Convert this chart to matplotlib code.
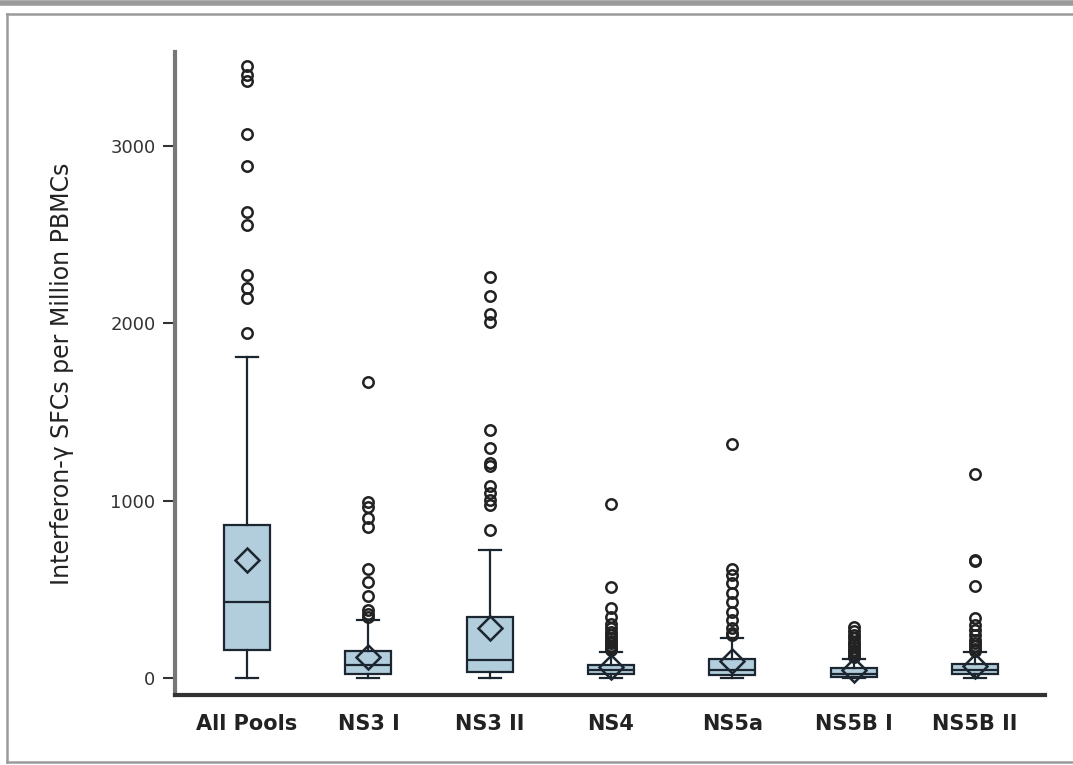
import matplotlib.pyplot as plt
from matplotlib.lines import Line2D
import numpy as np

# Values (interferon-gamma SFCs per million PBMCs)
groups = ['All Pools', 'NS3 I', 'NS3 II', 'NS4', 'NS5a', 'NS5B I', 'NS5B II']
q1s = [158, 25, 34, 20, 17, 5, 20]
medians = [428, 75, 100, 45, 45, 25, 45]
q3s = [863, 150, 344, 75, 107, 56, 80]
means = [665, 118, 282, 60, 95, 45, 65]
whisLo = [0, 0, 0, 0, 0, 0, 0]
whisHi = [1810, 325, 722, 147, 226, 105, 145]
fliers = [
    [3450, 3400, 3370, 3068, 2888, 2628, 2555, 2273, 2200, 2143, 1946],
    [1670, 990, 965, 902, 852, 615, 540, 460, 383, 360, 345],
    [2262, 2155, 2053, 2008, 1399, 1297, 1212, 1196, 1083, 1043, 1004, 976, 835],
    [981, 513, 395, 344, 305, 280, 260, 240, 225, 210, 195, 180, 170, 160],
    [1320, 615, 581, 536, 479, 429, 372, 327, 282, 255, 240],
    [285, 265, 245, 225, 205, 190, 175, 160, 145, 130, 118],
    [1150, 666, 660, 519, 338, 299, 270, 240, 215, 195, 180, 165, 155],
]
yticks = [0, 1000, 2000, 3000]
ylabel = 'Interferon-\u03b3 SFCs per Million PBMCs'

boxColor = '#b2cddb'
edgeColor = '#1c2630'

stats = []
for i, name in enumerate(groups):
    stats.append(dict(label=name, q1=q1s[i], med=medians[i], q3=q3s[i],
                      mean=means[i], whislo=whisLo[i], whishi=whisHi[i],
                      fliers=fliers[i]))

fig = plt.figure(figsize=(10.73, 7.65), dpi=100)
ax = fig.add_axes([0.1631, 0.0915, 0.8108, 0.8405])

ax.bxp(
    stats, positions=np.arange(1, len(groups) + 1), widths=0.38,
    patch_artist=True, showmeans=True, showfliers=True,
    boxprops=dict(facecolor=boxColor, edgecolor=edgeColor, linewidth=1.6),
    medianprops=dict(color=edgeColor, linewidth=1.6),
    whiskerprops=dict(color=edgeColor, linewidth=1.6),
    capprops=dict(color=edgeColor, linewidth=1.6),
    capwidths=0.18,
    meanprops=dict(marker='D', markersize=12, markerfacecolor='none',
                   markeredgecolor=edgeColor, markeredgewidth=1.8),
    flierprops=dict(marker='o', markersize=7.5, markerfacecolor='none',
                    markeredgecolor='#222222', markeredgewidth=1.8),
)

ax.set_xlim(0.406, 7.577)
ax.set_ylim(-96, 3531)
ax.set_yticks(yticks)
ax.set_yticklabels([str(v) for v in yticks], fontsize=13, color='#333333')
ax.set_xticks(np.arange(1, len(groups) + 1))
ax.set_xticklabels(groups, fontsize=15, fontweight='bold', color='#222222')
ax.tick_params(axis='y', length=9, width=1.5, color='#333333', pad=5)
ax.tick_params(axis='x', length=0, pad=14)
ax.set_ylabel(ylabel, fontsize=17, color='#222222', labelpad=26)

for side in ['top', 'right']:
    ax.spines[side].set_visible(False)
ax.spines['left'].set_color('#777777')
ax.spines['left'].set_linewidth(3)
ax.spines['bottom'].set_color('#333333')
ax.spines['bottom'].set_linewidth(3)

# outer panel frame
frameColor = '#9a9a9a'
fig.add_artist(Line2D([0, 1], [0.9961, 0.9961], color=frameColor, lw=4,
                      transform=fig.transFigure))
fig.add_artist(Line2D([0.0065, 1], [0.9817, 0.9817], color=frameColor, lw=1.8,
                      transform=fig.transFigure))
fig.add_artist(Line2D([0.0065, 0.0065], [0.004, 0.9817], color=frameColor,
                      lw=1.8, transform=fig.transFigure))
fig.add_artist(Line2D([0.0065, 1], [0.004, 0.004], color=frameColor, lw=1.8,
                      transform=fig.transFigure))

fig.savefig('out.png', dpi=100)
